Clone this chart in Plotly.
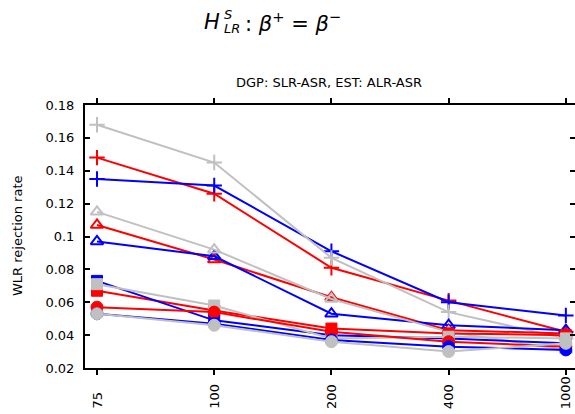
import plotly.graph_objects as go

# ---- data ----
categories = ["75", "100", "200", "400", "1000"]

red_plus = [0.148, 0.126, 0.081, 0.061, 0.042]
blue_plus = [0.135, 0.131, 0.091, 0.060, 0.052]
gray_plus = [0.168, 0.145, 0.087, 0.054, 0.038]

red_tri = [0.107, 0.086, 0.063, 0.043, 0.041]
blue_tri = [0.097, 0.088, 0.053, 0.046, 0.043]
gray_tri = [0.115, 0.092, 0.062, 0.042, 0.031]

red_sq = [0.067, 0.055, 0.044, 0.041, 0.040]
blue_sq = [0.073, 0.049, 0.040, 0.038, 0.035]
gray_sq = [0.071, 0.058, 0.038, 0.039, 0.038]

red_circ = [0.057, 0.054, 0.042, 0.036, 0.033]
blue_circ = [0.053, 0.047, 0.037, 0.033, 0.031]
gray_circ = [0.053, 0.046, 0.036, 0.030, 0.035]

y_tickvals = [0.02, 0.04, 0.06, 0.08, 0.10, 0.12, 0.14, 0.16, 0.18]
y_ticktext = ["0.02", "0.04", "0.06", "0.08", "0.1", "0.12", "0.14", "0.16", "0.18"]

RED, BLUE, GRAY = "#ff0000", "#0000ff", "#c0c0c0"
FONT = "DejaVu Sans"

W, H = 575, 414
ML, MR, MT, MB = 85, 0, 105, 46
PW, PH = W - ML - MR, H - MT - MB


def px_x(px):
    return (px - ML) / PW


def px_y(py):
    return (H - MB - py) / PH


fig = go.Figure()

groups = [
    ("cross-thin", 11, [(red_plus, RED), (blue_plus, BLUE), (gray_plus, GRAY)], True),
    ("triangle-up-open", 11, [(red_tri, RED), (blue_tri, BLUE), (gray_tri, GRAY)], True),
    ("square", 11, [(red_sq, RED), (blue_sq, BLUE), (gray_sq, GRAY)], False),
    ("circle", 12, [(red_circ, RED), (blue_circ, BLUE), (gray_circ, GRAY)], False),
]

for symbol, size, series, openm in groups:
    for vals, col in series:
        fig.add_trace(go.Scatter(
            x=categories, y=vals, mode="lines+markers",
            line=dict(color=col, width=2),
            marker=dict(symbol=symbol, size=size, color=col,
                        line=dict(color=col, width=2 if openm else 1)),
            showlegend=False, hoverinfo="skip",
        ))

# invisible trace to carry the right-hand tick axis
fig.add_trace(go.Scatter(x=[categories[0]], y=[y_tickvals[0]], yaxis="y2", mode="markers",
                         marker=dict(opacity=0), showlegend=False, hoverinfo="skip"))

# title pieces
ann = []
ann.append(dict(text="<i>H</i>", x=px_x(222), y=px_y(22), xanchor="right", yanchor="middle",
                font=dict(size=21, family=FONT, color="black")))
ann.append(dict(text="<i>S</i>", x=px_x(222), y=px_y(15), xanchor="left", yanchor="middle",
                font=dict(size=13, family=FONT, color="black")))
ann.append(dict(text="<i>LR</i>", x=px_x(222), y=px_y(29), xanchor="left", yanchor="middle",
                font=dict(size=13, family=FONT, color="black")))
ann.append(dict(text=": <i>β</i><sup>+</sup> = <i>β</i><sup>−</sup>", x=px_x(243), y=px_y(22),
                xanchor="left", yanchor="middle",
                font=dict(size=21, family=FONT, color="black")))
ann.append(dict(text="DGP: SLR-ASR, EST: ALR-ASR", x=px_x(329), y=px_y(83),
                xanchor="center", yanchor="middle",
                font=dict(size=13, family=FONT, color="black")))
ann.append(dict(text="WLR rejection rate", x=px_x(17), y=px_y(236), textangle=-90,
                xanchor="center", yanchor="middle",
                font=dict(size=13, family=FONT, color="black")))
# x tick labels, bottom aligned, rotated
for i, c in enumerate(categories):
    ann.append(dict(text=c, x=i, xref="x", y=px_y(411), yref="paper", textangle=-90,
                    xanchor="center", yanchor="bottom", showarrow=False,
                    font=dict(size=13, family=FONT, color="black")))

for a in ann:
    a.setdefault("xref", "paper")
    a.setdefault("yref", "paper")
    a["showarrow"] = False

fig.update_layout(
    width=W, height=H,
    margin=dict(l=ML, r=MR, t=MT, b=MB, pad=0),
    plot_bgcolor="white", paper_bgcolor="white",
    font=dict(family=FONT, size=13, color="black"),
    annotations=ann,
    hovermode=False,
    xaxis=dict(type="category", categoryorder="array", categoryarray=categories,
               range=[-0.1024, 4.078], showgrid=False, zeroline=False,
               showline=True, linecolor="black", linewidth=2, mirror="ticks",
               ticks="outside", ticklen=5, tickwidth=1.5, tickcolor="black",
               showticklabels=False),
    yaxis=dict(range=[0.02, 0.18], tickvals=y_tickvals, ticktext=y_ticktext,
               showgrid=False, zeroline=False,
               showline=True, linecolor="black", linewidth=2, mirror=False,
               ticks="inside", ticklen=5, tickwidth=1.5, tickcolor="black",
               ticklabelstandoff=6,
               tickfont=dict(size=13, family=FONT, color="black")),
    yaxis2=dict(overlaying="y", side="right", range=[0.02, 0.18], tickvals=y_tickvals,
                showgrid=False, zeroline=False, showline=False, showticklabels=False,
                ticks="inside", ticklen=5, tickwidth=1.5, tickcolor="black"),
)

fig.write_html("out.html", config={"displayModeBar": False},
               post_script="document.body.style.margin='0';document.body.style.overflow='hidden';")
